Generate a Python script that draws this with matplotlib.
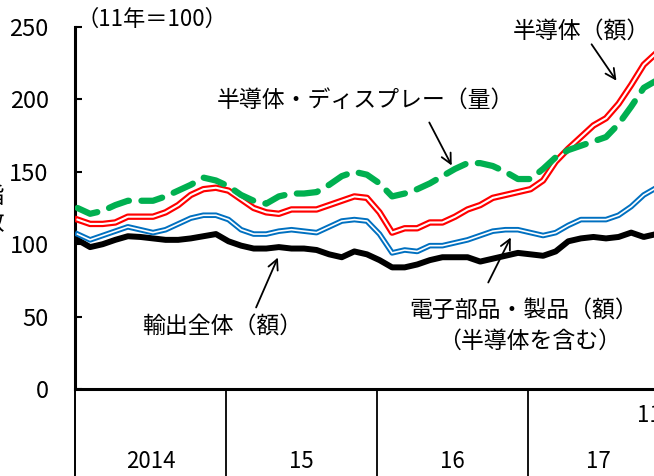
import numpy as np
import matplotlib
matplotlib.use("Agg")
import matplotlib.pyplot as plt

plt.rcParams['font.family'] = ['Noto Sans CJK JP', 'DejaVu Sans']

# months from Jan 2014 (0) to Nov 2017 (46)
months = np.arange(47)

# 輸出全体（額）
total_exports = [103, 98, 100, 103, 105.5, 105, 104, 103, 103, 104, 105.5, 107,
                 102, 99, 97, 97, 98, 97, 97, 96, 93, 91, 95, 93,
                 89, 84, 84, 86, 89, 91, 91, 91, 88, 90, 92, 94,
                 93, 92, 95, 102, 104, 105, 104, 105, 108, 105, 107]
# 電子部品・製品（額）
electronics = [107, 103, 106, 109, 112, 110, 108, 110, 114, 118, 120, 120,
               117, 110, 107, 107, 109, 110, 109, 108, 112, 116, 117, 116,
               107, 94, 96, 95, 99, 99, 101, 103, 106, 109, 110, 110,
               108, 106, 108, 113, 117, 117, 117, 120, 126, 134, 139]
# 半導体（額）
semis = [117, 114, 114, 115, 119, 119, 119, 122, 127, 134, 138, 139,
         137, 131, 125, 122, 121, 124, 124, 124, 127, 130, 133, 132,
         122, 108, 111, 111, 115, 115, 119, 124, 127, 132, 134, 136,
         138, 144, 157, 166, 174, 182, 187, 197, 210, 224, 232]
# 半導体・ディスプレー（量）
semis_display = [125, 121, 123, 127, 130, 130, 130, 133, 137, 141, 146, 144,
                 140, 134, 130, 128, 133, 135, 135, 136, 141, 147, 150, 148,
                 142, 133, 135, 138, 142, 147, 152, 156, 156, 154, 150, 145,
                 145, 152, 160, 165, 168, 171, 174, 183, 195, 208, 213]

year_labels = ['2014', '15', '16', '17']
year_label_pos = [5.8, 17.8, 29.8, 41.4]
year_bounds = [11.8, 23.8, 35.8]
yticks = [0, 50, 100, 150, 200, 250]

fig = plt.figure(figsize=(6.54, 4.76), dpi=100)
ax = fig.add_axes([75 / 654, 87 / 476, 604 / 654, 362 / 476])
ax.set_xlim(-0.2, 47.8)
ax.set_ylim(0, 250)

ax.plot(months, total_exports, color='black', lw=4.3, solid_joinstyle='round', zorder=2)
ax.plot(months, electronics, color='#0070C0', lw=4.0, zorder=3)
ax.plot(months, electronics, color='white', lw=1.2, zorder=3)
ax.plot(months, semis, color='#FF0000', lw=4.6, zorder=4)
ax.plot(months, semis, color='white', lw=1.5, zorder=4)
ax.plot(months, semis_display, color='#00B050', lw=4.5, dashes=(3.4, 2.0),
        dash_capstyle='round', zorder=5)

# axes styling
for s in ['top', 'right']:
    ax.spines[s].set_visible(False)
ax.spines['left'].set_linewidth(2.2)
ax.spines['bottom'].set_linewidth(2.2)
ax.set_xticks([])
ax.set_yticks(yticks)
ax.tick_params(axis='y', direction='in', length=5, width=1.5, labelsize=17, pad=19)

# year separators below the axis
xt = ax.get_xaxis_transform()
ax.plot([-0.2, -0.2], [0, -0.25], transform=xt, color='black', lw=1.4, clip_on=False)
for b in year_bounds:
    ax.plot([b, b], [0, -0.25], transform=xt, color='black', lw=1.3, clip_on=False)
for lab, p in zip(year_labels, year_label_pos):
    ax.text(p, -0.199, lab, transform=xt, ha='center', va='center', fontsize=16)
ax.text(44.5, -0.072, '11月', transform=xt, ha='left', va='center', fontsize=16)

# labels and arrows
fig.text(76 / 654, 1 - 19 / 476, '（11年＝100）', ha='left', va='center', fontsize=16)
fig.text(-8 / 654, 1 - 210 / 476, '指\n数', ha='center', va='center', fontsize=17, linespacing=1.2)

def px(x, y):
    return (x / 654, 1 - y / 476)

arrow = dict(arrowstyle='->', color='black', lw=1.3, mutation_scale=18)
ax.annotate('', xy=px(618, 83), xytext=px(590, 42), xycoords='figure fraction',
            textcoords='figure fraction', arrowprops=arrow)
ax.annotate('', xy=px(453, 168), xytext=px(428, 120), xycoords='figure fraction',
            textcoords='figure fraction', arrowprops=arrow)
ax.annotate('', xy=px(279, 255), xytext=px(255, 310), xycoords='figure fraction',
            textcoords='figure fraction', arrowprops=arrow)
ax.annotate('', xy=px(512, 235), xytext=px(487, 285), xycoords='figure fraction',
            textcoords='figure fraction', arrowprops=arrow)

fig.text(*px(581, 32), '半導体（額）', ha='center', va='center', fontsize=16.5)
fig.text(*px(365, 100), '半導体・ディスプレー（量）', ha='center', va='center', fontsize=16.5)
fig.text(*px(222, 327), '輸出全体（額）', ha='center', va='center', fontsize=16.5)
fig.text(*px(524, 311), '電子部品・製品（額）', ha='center', va='center', fontsize=16.5)
fig.text(*px(530, 341), '（半導体を含む）', ha='center', va='center', fontsize=16.5)

fig.savefig('out.png', dpi=100)
